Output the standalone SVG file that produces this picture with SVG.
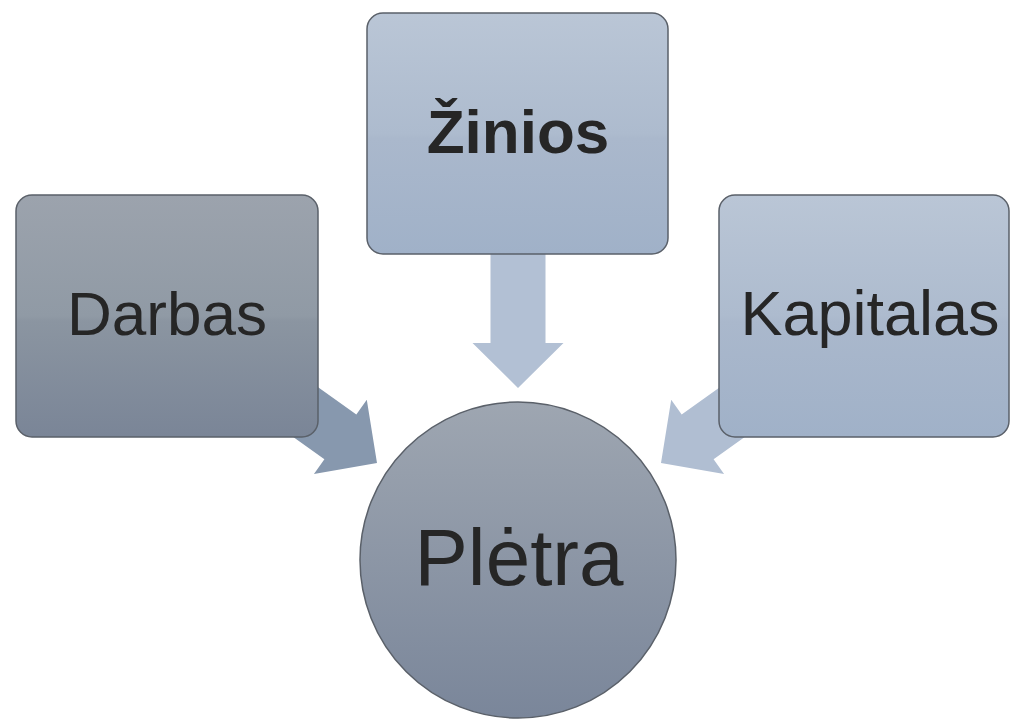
<svg xmlns="http://www.w3.org/2000/svg" width="1010" height="719" viewBox="0 0 1010 719">
<defs>
<linearGradient id="gDark" x1="0" y1="0" x2="0" y2="1">
<stop offset="0" stop-color="#9ca3ad"/>
<stop offset="0.5" stop-color="#909aa5"/>
<stop offset="0.52" stop-color="#8b95a1"/>
<stop offset="1" stop-color="#7a8597"/>
</linearGradient>
<linearGradient id="gLight" x1="0" y1="0" x2="0" y2="1">
<stop offset="0" stop-color="#bac6d6"/>
<stop offset="0.5" stop-color="#adbbce"/>
<stop offset="0.52" stop-color="#aab8cc"/>
<stop offset="1" stop-color="#a0b1c8"/>
</linearGradient>
<linearGradient id="gCircle" x1="0" y1="0" x2="0" y2="1">
<stop offset="0" stop-color="#9ea6b1"/>
<stop offset="1" stop-color="#7a869a"/>
</linearGradient>
</defs>
<style>
.box{stroke:#5a6069;stroke-width:1.5}
.lbl{font-family:"Liberation Sans",Arial,sans-serif;fill:#262626;text-anchor:middle}
</style>
<g id="connectors">
<polygon id="arrow-darbas" transform="translate(377,463) rotate(35.5)" points="-150,-27.5 -45,-27.5 -45,-45.5 0,0 -45,45.5 -45,27.5 -150,27.5" fill="#8798ae"/>
<polygon id="arrow-kapitalas" transform="translate(661,463) rotate(144.5)" points="-150,-27.5 -45,-27.5 -45,-45.5 0,0 -45,45.5 -45,27.5 -150,27.5" fill="#b0bed2"/>
<polygon id="arrow-zinios" transform="translate(518,388) rotate(90)" points="-140,-27.5 -45,-27.5 -45,-45.5 0,0 -45,45.5 -45,27.5 -140,27.5" fill="#b2c0d4"/>
</g>
<g id="node-darbas">
<rect class="box" x="16" y="195" width="302" height="242" rx="16" fill="url(#gDark)"/>
<text class="lbl" x="167" y="335" font-size="62">Darbas</text>
</g>
<g id="node-zinios">
<rect class="box" x="367" y="13" width="301" height="241" rx="16" fill="url(#gLight)"/>
<text class="lbl" x="518" y="153" font-size="62" font-weight="bold">Žinios</text>
</g>
<g id="node-kapitalas">
<rect class="box" x="719" y="195" width="290" height="242" rx="16" fill="url(#gLight)"/>
<text class="lbl" x="870" y="335" font-size="63">Kapitalas</text>
</g>
<g id="node-pletra">
<circle cx="518" cy="560" r="158" fill="url(#gCircle)" stroke="#5a6069" stroke-width="1.5"/>
<text class="lbl" x="519" y="585" font-size="80">Plėtra</text>
</g>
</svg>
